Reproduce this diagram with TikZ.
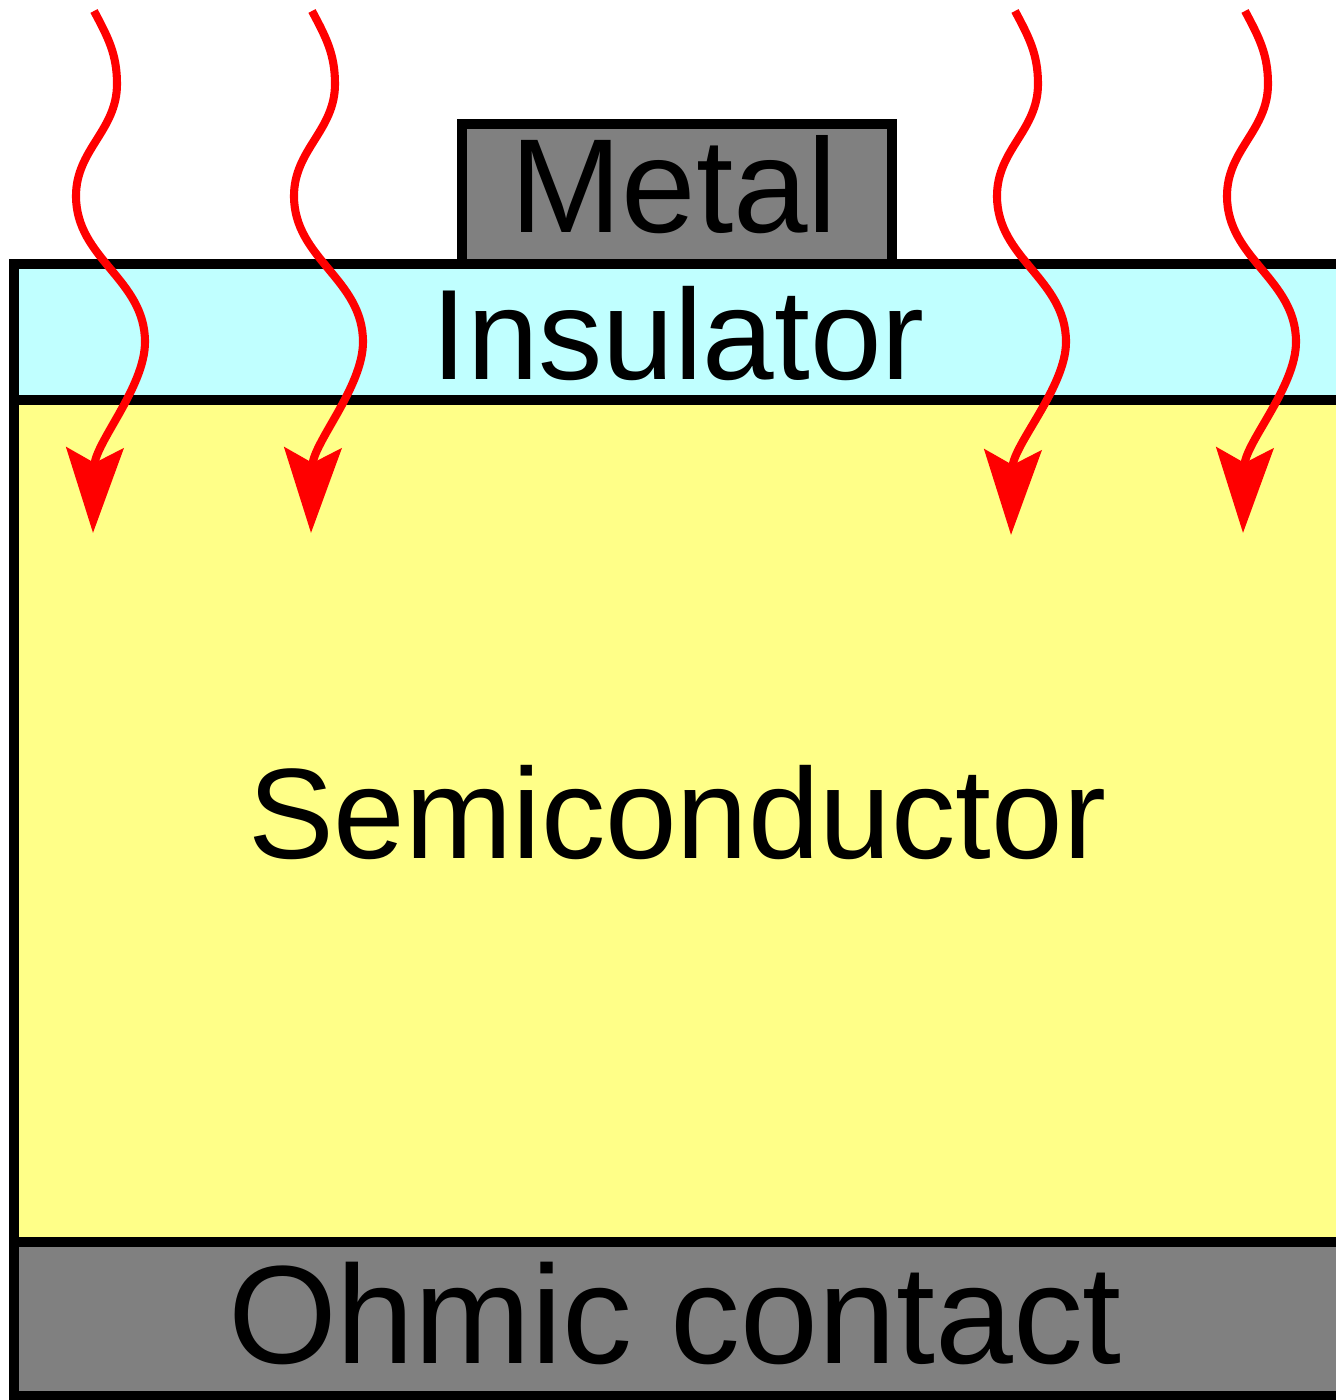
\documentclass[tikz,border=0pt]{standalone}
\usepackage{fontspec}
\setsansfont{Liberation Sans}
\usetikzlibrary{arrows.meta}
\definecolor{metalgray}{HTML}{808080}
\definecolor{insulatorcyan}{HTML}{C0FFFF}
\definecolor{semiyellow}{HTML}{FFFF88}
\tikzset{
  layer/.style={draw=black, line width=2.6pt},
  layertext/.style={anchor=base, inner sep=0pt, font=\sffamily\fontsize{#1pt}{#1pt}\selectfont},
  photon/.style={draw=red, line width=2.3pt, -{Stealth[length=8.5mm, width=5.7mm, inset=1.5mm]}}
}
\begin{document}
\begin{tikzpicture}
\useasboundingbox (0,0) rectangle (13.35,14);
% Ohmic contact
\draw[layer, fill=metalgray] (0.14,0.04) rectangle (13.6,1.58);
\node[layertext=39.8] (ohmic) at (6.75,0.37) {Ohmic contact};
% Semiconductor
\draw[layer, fill=semiyellow] (0.14,1.58) rectangle (13.6,10.0);
\node[layertext=36.6] (semi) at (6.77,5.41) {Semiconductor};
% Insulator
\draw[layer, fill=insulatorcyan] (0.14,10.0) rectangle (13.6,11.36);
\node[layertext=36.6] (insulator) at (6.78,10.2) {Insulator};
% Metal gate
\draw[layer, fill=metalgray] (4.62,11.36) rectangle (8.92,12.76);
\node[layertext=38.1] (metal) at (6.74,11.67) {Metal};
% ray 1
\coordinate (ray1 top) at (0.94,13.89);
\coordinate (ray1 tip) at (0.93,8.67);
\draw[photon] (ray1 top) to[out=-62,in=90] ++(0.23,-0.73) to[out=-90,in=90] ++(-0.41,-1.12)
  to[out=-90,in=90] ++(0.69,-1.46) .. controls +(0,-0.45) and +(0.02,0.9) .. (ray1 tip);
% ray 2
\coordinate (ray2 top) at (3.12,13.89);
\coordinate (ray2 tip) at (3.11,8.67);
\draw[photon] (ray2 top) to[out=-62,in=90] ++(0.23,-0.73) to[out=-90,in=90] ++(-0.41,-1.12)
  to[out=-90,in=90] ++(0.69,-1.46) .. controls +(0,-0.45) and +(0.02,0.9) .. (ray2 tip);
% ray 3
\coordinate (ray3 top) at (10.15,13.89);
\coordinate (ray3 tip) at (10.11,8.65);
\draw[photon] (ray3 top) to[out=-62,in=90] ++(0.23,-0.73) to[out=-90,in=90] ++(-0.41,-1.12)
  to[out=-90,in=90] ++(0.69,-1.46) .. controls +(0,-0.45) and +(0.02,0.9) .. (ray3 tip);
% ray 4
\coordinate (ray4 top) at (12.45,13.89);
\coordinate (ray4 tip) at (12.43,8.67);
\draw[photon] (ray4 top) to[out=-62,in=90] ++(0.23,-0.73) to[out=-90,in=90] ++(-0.41,-1.12)
  to[out=-90,in=90] ++(0.69,-1.46) .. controls +(0,-0.45) and +(0.02,0.9) .. (ray4 tip);
\end{tikzpicture}
\end{document}
